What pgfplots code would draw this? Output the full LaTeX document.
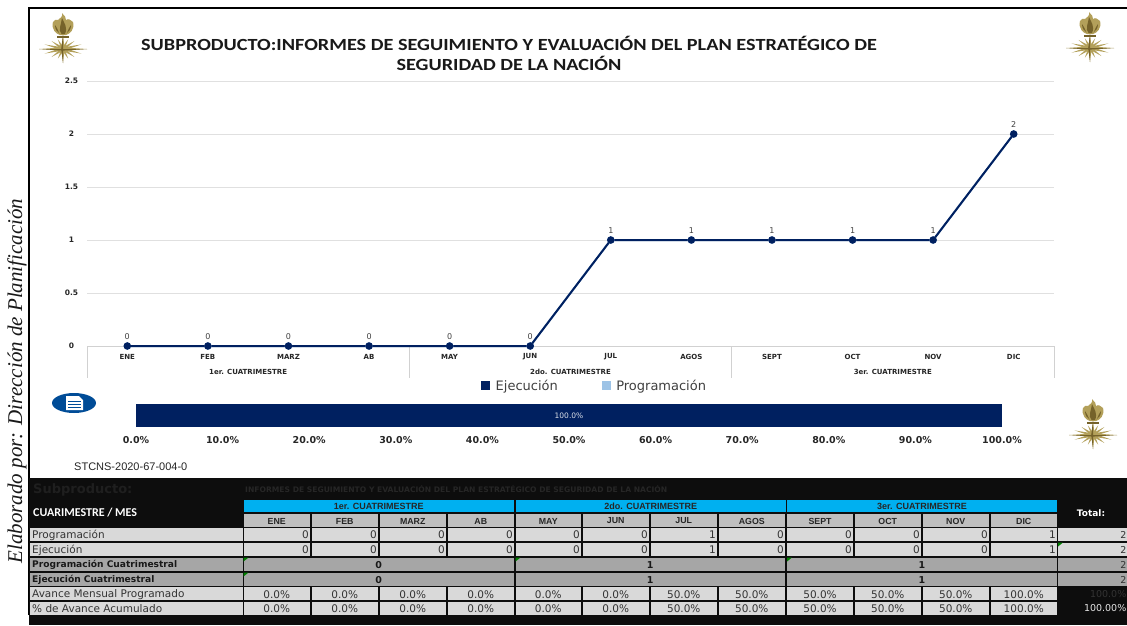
\documentclass[border=0pt]{standalone}
\usepackage{fontspec}
\usepackage{pgfplots}
\pgfplotsset{compat=1.18}
\setmainfont{Liberation Sans}
\newfontfamily\fcal{Carlito}
\newfontfamily\fcalw[FakeStretch=1.19]{Carlito}
\newfontfamily\fdj{DejaVu Sans}
\newfontfamily\ftms{Liberation Serif}
\newcommand{\fs}[1]{\fontsize{#1}{#1}\selectfont}
\definecolor{navy}{HTML}{002060}
\definecolor{lblue}{HTML}{9DC3E6}
\definecolor{gold}{HTML}{B3A05A}
\definecolor{golddk}{HTML}{75622A}
\definecolor{cyanh}{HTML}{00B0F0}
\definecolor{rowg}{HTML}{D9D9D9}
\definecolor{cuag}{HTML}{A6A6A6}
\definecolor{hdrg}{HTML}{BFBFBF}
\definecolor{txtg}{HTML}{404040}
\definecolor{blk}{HTML}{0D0D0D}
\definecolor{ico}{HTML}{004C97}
\newcommand{\logo}[2]{%
\begin{scope}[shift={(#1,#2)}]
\foreach \a/\r in {0/24,180/24,90/14,270/14,14/19,166/19,194/19,346/19,35/14,145/14,215/14,325/14,62/11,118/11,242/11,298/11}{
 \fill[gold] (\a+90:1.6) -- (\a:\r) -- (\a-90:1.6) -- cycle;}
\fill[golddk] (0,0) -- (0,-14) -- (-1.8,0) -- (0,14) -- cycle;
\fill[golddk] (0,0) -- (-24,0) -- (0,1.6) -- cycle;
\fill[golddk] (0,0) -- (24,0) -- (0,1.6) -- cycle;
% cup of flame
\fill[gold] (-10,-27) .. controls (-12,-20) and (-7,-15) .. (-3,-14) -- (3,-14) .. controls (7,-15) and (12,-20) .. (10,-27) .. controls (7,-29) and (6,-31) .. (3,-29) .. controls (4,-32) and (1,-33) .. (-1,-36) .. controls (0,-32) and (-3,-31) .. (-5,-29) .. controls (-7,-30) and (-9,-29) .. (-10,-27) -- cycle;
\fill[golddk] (-1.5,-15) .. controls (-5,-19) and (-2,-24) .. (-1,-31) .. controls (1,-26) and (5,-22) .. (2,-15) -- cycle;
\fill[golddk] (-8,-24) .. controls (-8,-20) and (-6,-17) .. (-3.5,-15.5) .. controls (-5.5,-19) and (-6,-22) .. (-8,-24) -- cycle;
\fill[golddk] (8,-24) .. controls (8,-20) and (6,-17) .. (3.5,-15.5) .. controls (5.5,-19) and (6,-22) .. (8,-24) -- cycle;
\fill[golddk] (-6,-13.5) rectangle (6,-11.5);
\end{scope}}
\begin{document}
\begin{tikzpicture}
\clip (0pt,0pt) rectangle (1127pt,-625pt);
\fill[white] (0pt,0pt) rectangle (1127pt,-625pt);
% ---- main chart
\begin{axis}[
  at={(87pt,-346pt)}, anchor=south west,
  scale only axis, width=967pt, height=265pt,
  xmin=-0.5, xmax=11.5, ymin=0, ymax=2.5,
  clip=false,
  axis lines=none,
  xtick=\empty,ytick=\empty,
  legend style={at={(0.525,-0.151)},anchor=center,draw=none,fill=none,font=\fdj\fs{13}\color{txtg},
    /tikz/every even column/.append style={column sep=42pt},inner sep=0pt},
  legend columns=2,
  legend image code/.code={\fill[#1] (0pt,-3.5pt) rectangle (8pt,4.5pt);\path (12pt,0pt);},
]
\addlegendimage{navy}
\addlegendentry{Ejecución}
\addlegendimage{lblue}
\addlegendentry{Programación}
\foreach \v/\lab in {0.5/0.5,1/1,1.5/1.5,2/2,2.5/2.5}{
  \edef\tmp{\noexpand\draw[black!12,line width=0.8pt] (axis cs:-0.5,\v) -- (axis cs:11.5,\v);}\tmp
}
\foreach \v/\lab in {0/0,0.5/0.5,1/1,1.5/1.5,2/2,2.5/2.5}{
  \edef\tmp{\noexpand\node[font=\noexpand\fdj\noexpand\bfseries\noexpand\fs{7.5},text=black!85] at ([xshift=-15.5pt]axis cs:-0.5,\v) {\lab};}\tmp
}
\draw[black!18,line width=1pt] (axis cs:-0.5,0) -- (axis cs:11.5,0);
\draw[black!18,line width=1pt] (axis cs:-0.5,0) -- ++(0pt,-32pt);
\draw[black!18,line width=1pt] (axis cs:3.5,0) -- ++(0pt,-32pt);
\draw[black!18,line width=1pt] (axis cs:7.5,0) -- ++(0pt,-32pt);
\draw[black!18,line width=1pt] (axis cs:11.5,0) -- ++(0pt,-32pt);
\foreach \i/\m in {0/ENE,1/FEB,2/MARZ,3/AB,4/MAY,5/JUN,6/JUL,7/AGOS,8/SEPT,9/OCT,10/NOV,11/DIC}{
  \edef\tmp{\noexpand\node[font=\noexpand\fdj\noexpand\bfseries\noexpand\fs{7},text=black!85] at ([yshift=-11pt]axis cs:\i,0) {\m};}\tmp
}
\foreach \i/\m in {1.5/1er. CUATRIMESTRE,5.5/2do. CUATRIMESTRE,9.5/3er. CUATRIMESTRE}{
  \edef\tmp{\noexpand\node[font=\noexpand\fdj\noexpand\bfseries\noexpand\fs{7},text=black!85] at ([yshift=-26pt]axis cs:\i,0) {\m};}\tmp
}
\addplot[lblue,line width=2pt,mark=*,mark size=2.7pt,mark options={draw=none},forget plot] coordinates {
 (0,0)(1,0)(2,0)(3,0)(4,0)(5,0)(6,1)(7,1)(8,1)(9,1)(10,1)(11,2)};
\addplot[navy,line width=2pt,mark=*,mark size=2.7pt,mark options={draw=none},forget plot,
  nodes near coords,point meta=y,
  nodes near coords style={font=\fdj\fs{8},text=txtg,anchor=south,yshift=2.5pt,
    /pgf/number format/assume math mode=true}] coordinates {
 (0,0)(1,0)(2,0)(3,0)(4,0)(5,0)(6,1)(7,1)(8,1)(9,1)(10,1)(11,2)};
\end{axis}
% ---- progress bar
\begin{axis}[
  at={(136pt,-427pt)}, anchor=south west,
  scale only axis, width=866pt, height=23pt,
  xmin=0, xmax=100, ymin=-0.5, ymax=0.5,
  clip=false,
  axis line style={draw=none},
  ytick=\empty,
  xtick={0,10,20,30,40,50,60,70,80,90,100},
  xticklabels={0.0\%,10.0\%,20.0\%,30.0\%,40.0\%,50.0\%,60.0\%,70.0\%,80.0\%,90.0\%,100.0\%},
  tick style={draw=none},
  xticklabel style={font=\fdj\bfseries\fs{9.5},text=black!85,yshift=-5.5pt},
]
\addplot[xbar,bar width=23pt,fill=navy,draw=none] coordinates {(100,0)};
\node[font=\fdj\fs{7.5},text=white!85!navy] at (axis cs:50,0) {100.0\%};
\end{axis}
\begin{scope}[x=1pt,y=-1pt]
% frame
\draw[black,line width=2pt] (29,615) -- (29,8) -- (1127,8);
% title
\node[font=\fcalw\bfseries\fs{17},align=center,text=black!90] at (509,53.5) {SUBPRODUCTO:INFORMES DE SEGUIMIENTO Y EVALUACIÓN DEL PLAN ESTRATÉGICO DE\\[3.5pt]SEGURIDAD DE LA NACIÓN};
% logos
\logo{63}{49}
\logo{1090}{48}
\logo{1093}{435}
% icon
\fill[ico] (74,403) ellipse (22 and 10);
\fill[white] (66,396) -- (79,396) -- (83,400) -- (83,410) -- (66,410) -- cycle;
\draw[ico,line width=1pt] (68,401) -- (81,401) (68,404) -- (81,404) (68,407) -- (81,407);
% code
\node[anchor=west,font=\fs{11},text=black!85,inner sep=0pt] at (74,467) {STCNS-2020-67-004-0};
% rotated
\node[rotate=90,font=\ftms\itshape\fs{21},text=black!90,inner sep=0pt] at (17,381) {Elaborado por: Dirección de Planificación};
% ---- table
\fill[blk] (29,478) rectangle (1127,625);
\node[anchor=west,font=\fdj\bfseries\fs{13},text=black!88,inner sep=0pt] at (33,490) {Subproducto:};
\node[anchor=west,font=\fdj\bfseries\fs{7.6},text=black!85,inner sep=0pt] at (245,489) {INFORMES DE SEGUIMIENTO Y EVALUACIÓN DEL PLAN ESTRATÉGICO DE SEGURIDAD DE LA NACIÓN};
\node[anchor=west,font=\fcal\bfseries\fs{12},text=white,inner sep=0pt] at (33,513) {CUARIMESTRE / MES};
\node[font=\fdj\bfseries\fs{9},text=white,inner sep=0pt] at (1091,513) {Total:};
\foreach \a/\b/\t in {243.5/514/1er. CUATRIMESTRE,515.5/786/2do. CUATRIMESTRE,787/1057/3er. CUATRIMESTRE}{
  \fill[cyanh] (\a,500) rectangle (\b,512);
  \node[font=\bfseries\fs{9},text=black!85,inner sep=0pt] at ({(\a+\b)/2},506.5) {\t};
}
% rows labels
\fill[rowg] (30,527.5) rectangle (243,541);
\fill[rowg] (30,542.5) rectangle (243,556);
\fill[cuag] (30,557.5) rectangle (243,571);
\fill[cuag] (30,572.5) rectangle (243,585.5);
\fill[rowg] (30,587) rectangle (243,600);
\fill[rowg] (30,601.5) rectangle (243,614.5);
\foreach \y/\t in {535/Programación,550/Ejecución,594.5/Avance Mensual Programado,608.5/\% de Avance Acumulado}{
  \node[anchor=west,font=\fdj\fs{10.5},text=black!80,inner sep=0pt] at (32,\y) {\t};
}
\foreach \y/\t in {565/Programación Cuatrimestral,580/Ejecución Cuatrimestral}{
  \node[anchor=west,font=\fdj\bfseries\fs{9.1},text=black!90,inner sep=0pt] at (32,\y) {\t};
}
% month columns
\foreach \a/\b/\m/\p/\e/\av/\ac in {
 243.5/310/ENE/0/0/0.0/0.0, 311.5/378/FEB/0/0/0.0/0.0, 379.5/446/MARZ/0/0/0.0/0.0, 447.5/514/AB/0/0/0.0/0.0,
 515.5/581/MAY/0/0/0.0/0.0, 582.5/649/JUN/0/0/0.0/0.0, 650.5/717/JUL/1/1/50.0/50.0, 718.5/785/AGOS/0/0/50.0/50.0,
 787/853/SEPT/0/0/50.0/50.0, 854.5/921/OCT/0/0/50.0/50.0, 922.5/989/NOV/0/0/50.0/50.0, 990.5/1057/DIC/1/1/100.0/100.0}{
  \fill[hdrg] (\a,514) rectangle (\b,527);
  \node[font=\bfseries\fs{8.8},text=black!85,inner sep=0pt] at ({(\a+\b)/2},521) {\m};
  \fill[rowg] (\a,527.5) rectangle (\b,541);
  \fill[rowg] (\a,542.5) rectangle (\b,556);
  \fill[rowg] (\a,587) rectangle (\b,600);
  \fill[rowg] (\a,601.5) rectangle (\b,614.5);
  \node[anchor=east,font=\fdj\fs{10.5},text=black!80,inner sep=0pt] at (\b-1,535) {\p};
  \node[anchor=east,font=\fdj\fs{10.5},text=black!80,inner sep=0pt] at (\b-1,550) {\e};
  \node[font=\fdj\fs{10.5},text=black!80,inner sep=0pt] at ({(\a+\b)/2},594.5) {\av\%};
  \node[font=\fdj\fs{10.5},text=black!80,inner sep=0pt] at ({(\a+\b)/2},608.5) {\ac\%};
}
% four-month merged
\foreach \a/\b/\v/\w in {243.5/514/0/0,515.5/785/1/1,787/1057/1/1}{
  \fill[cuag] (\a,557.5) rectangle (\b,571);
  \fill[cuag] (\a,572.5) rectangle (\b,585.5);
  \node[font=\fdj\bfseries\fs{9.5},text=black!90,inner sep=0pt] at ({(\a+\b)/2},565) {\v};
  \node[font=\fdj\bfseries\fs{9.5},text=black!90,inner sep=0pt] at ({(\a+\b)/2},580) {\w};
}
% total column
\fill[rowg] (1058,527.5) rectangle (1127,541);
\fill[rowg] (1058,542.5) rectangle (1127,556);
\fill[cuag] (1058,557.5) rectangle (1127,571);
\fill[cuag] (1058,572.5) rectangle (1127,585.5);
\foreach \y in {535,550,565,580}{
  \node[anchor=east,font=\fdj\fs{9.5},text=black!80,inner sep=0pt] at (1126.5,\y) {2};
}
\node[anchor=east,font=\fdj\fs{9.5},text=black!80,inner sep=0pt] at (1126.5,594.5) {100.0\%};
\node[anchor=east,font=\fdj\fs{9.5},text=white!90!black,inner sep=0pt] at (1126.5,608.5) {100.00\%};
% green markers
\foreach \x/\y in {243.5/557.5,515.5/557.5,787/557.5,243.5/572.5,1058/542.5}{
  \fill[green!50!black] (\x,\y) -- (\x+5,\y) -- (\x,\y+4) -- cycle;
}
\end{scope}
\end{tikzpicture}
\end{document}
